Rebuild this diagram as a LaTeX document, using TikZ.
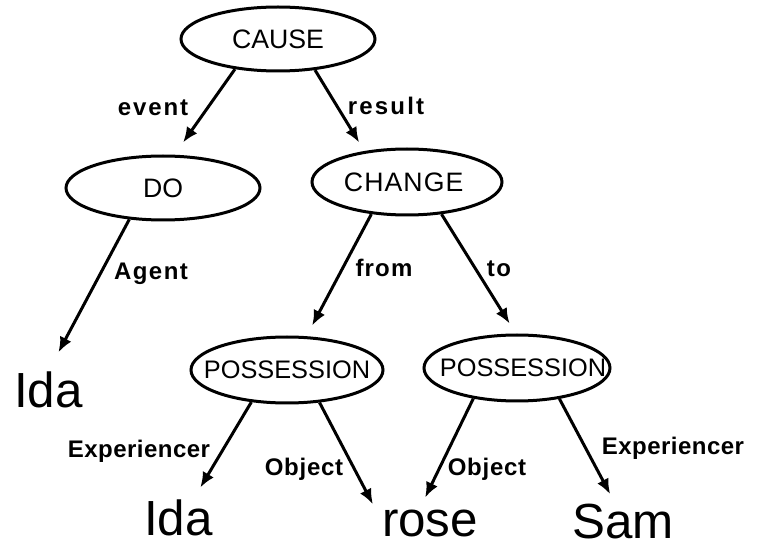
\documentclass[tikz,border=0pt]{standalone}
\usepackage{fontspec}
\setmainfont{Liberation Sans}
\usetikzlibrary{arrows.meta,shapes.geometric}
\newcommand\lsp[2]{{\addfontfeature{LetterSpace=#1}#2}}
\begin{document}
\begin{tikzpicture}[x=0.75pt,y=-0.75pt,
  conn/.style={line width=2.25pt,-{Latex[length=11.5pt,width=9.5pt]}},
  oval/.style={ellipse,draw,line width=2.25pt,inner sep=0pt,font=\fontsize{20pt}{24pt}\selectfont},
  word/.style={inner sep=0pt,anchor=base,font=\fontsize{37pt}{44pt}\selectfont},
  lbl/.style={inner sep=0pt,anchor=base,font=\fontsize{18pt}{21pt}\bfseries\selectfont}]
\fill[white] (0,0) rectangle (758,549);
\useasboundingbox (0,0) rectangle (758,549);
% concept ovals
\node[oval,minimum width=145.5pt,minimum height=48pt] (cause) at (278,39) {\makebox[0pt]{CAUSE}};
\node[oval,minimum width=145.5pt,minimum height=48pt] (do) at (163,188) {\makebox[0pt]{DO}};
\node[oval,minimum width=142.5pt,minimum height=49.5pt] (change) at (407,182) {\makebox[0pt]{\hspace*{-5pt}\lsp{4}{CHANGE}}};
\node[oval,minimum width=144pt,minimum height=49.5pt,font=\fontsize{19pt}{23pt}\selectfont] (pl) at (287,370) {\makebox[0pt]{POSSESSION}};
\node[oval,minimum width=139.5pt,minimum height=49.5pt,font=\fontsize{19pt}{23pt}\selectfont] (pr) at (517,368) {\makebox[0pt]{\hspace*{9pt}POSSESSION}};
% fillers
\node[word] (ida1) at (48.5,407) {Ida};
\node[word] (ida2) at (178.5,535) {Ida};
\node[word] (rose) at (430,537) {rose};
\node[word] (sam) at (623,538) {Sam};
% connectors
\draw[conn,shorten >=11.25pt] (cause.-145) -- (do.71);
\draw[conn,shorten >=7.5pt] (cause.-40) -- (change.144);
\draw[conn,shorten >=15.8pt] (do.-137) -- (ida1.north);
\draw[conn,shorten >=9pt] (change.-138) -- (pl.60);
\draw[conn,shorten >=8.8pt] (change.-43) -- (pr.92);
\draw[conn,shorten >=10pt] (pl.-138) -- ([xshift=11.25pt]ida2.north);
\draw[conn,shorten >=5pt] (pl.-45) -- ([xshift=-40.5pt]rose.north);
\draw[conn,shorten >=10.5pt] (pr.-145) -- ([xshift=-8.25pt]rose.north);
\draw[conn,shorten >=7.7pt] (pr.-36) -- ([xshift=-6pt]sam.north);
% labels
\node[lbl] (lev) at (153,116) {\lsp{8}{event}};
\node[lbl] (lres) at (386,115) {\lsp{9}{result}};
\node[lbl] (lag) at (151,280) {\lsp{6}{Agent}};
\node[lbl] (lfr) at (384,277) {\lsp{5}{from}};
\node[lbl] (lto) at (499,277) {\lsp{6}{to}};
\node[lbl] (lexl) at (139,457) {\lsp{2}{Experiencer}};
\node[lbl] (lobl) at (304,475) {\lsp{3}{Object}};
\node[lbl] (lobr) at (487,475) {\lsp{3}{Object}};
\node[lbl] (lexr) at (673,455) {\lsp{2}{Experiencer}};
\end{tikzpicture}
\end{document}
